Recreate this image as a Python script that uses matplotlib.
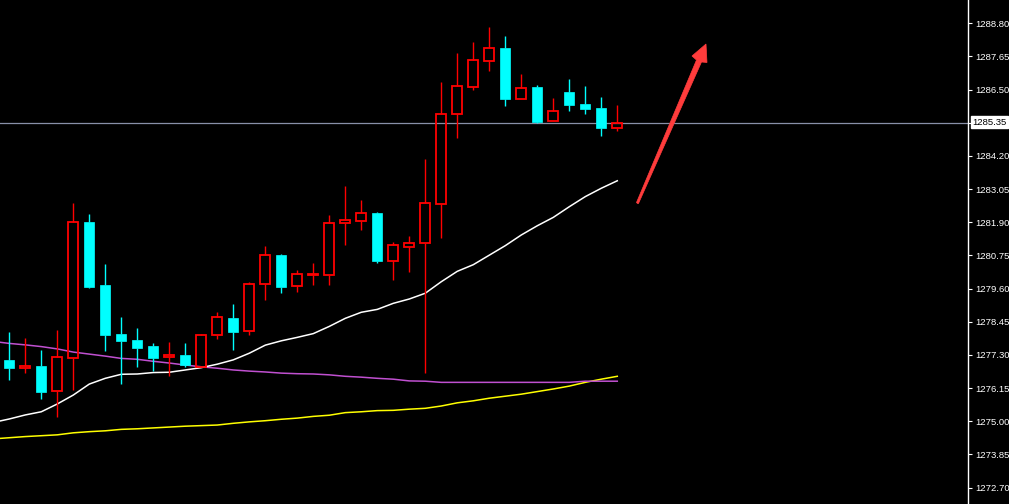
import matplotlib
matplotlib.use("Agg")
import matplotlib.pyplot as plt
from matplotlib.patches import Polygon
import numpy as np

# ---- data ----
opens = [1277.13, 1276.86, 1276.92, 1276.04, 1277.18, 1281.91, 1279.72, 1278.03, 1277.82, 1277.61,
         1277.22, 1277.30, 1276.89, 1277.98, 1278.58, 1278.12, 1279.75, 1280.77, 1279.68, 1280.08,
         1280.06, 1281.87, 1281.93, 1282.22, 1280.57, 1281.05, 1281.17, 1282.52, 1285.67, 1286.60,
         1287.50, 1287.93, 1286.17, 1286.59, 1285.42, 1286.42, 1286.00, 1285.86, 1285.18]
highs = [1278.10, 1277.89, 1277.47, 1278.17, 1282.57, 1282.19, 1280.45, 1278.62, 1278.24, 1277.71,
         1277.75, 1277.71, 1278.03, 1278.79, 1279.07, 1279.83, 1281.08, 1280.80, 1280.25, 1280.49,
         1282.15, 1283.16, 1282.67, 1282.26, 1281.22, 1281.43, 1284.10, 1286.77, 1287.77, 1288.15,
         1288.67, 1288.36, 1287.04, 1286.66, 1286.21, 1286.87, 1286.63, 1286.25, 1285.97]
lows = [1276.43, 1276.69, 1275.77, 1275.16, 1276.09, 1279.62, 1277.45, 1276.30, 1276.88, 1276.74,
        1276.58, 1276.88, 1276.89, 1277.86, 1277.48, 1278.00, 1279.22, 1279.46, 1279.49, 1279.74,
        1279.74, 1281.12, 1281.63, 1280.48, 1279.91, 1280.19, 1276.69, 1281.37, 1284.83, 1286.50,
        1287.16, 1285.93, 1286.17, 1285.34, 1285.42, 1285.76, 1285.66, 1284.89, 1285.07]
closes = [1276.86, 1276.92, 1276.03, 1277.22, 1281.90, 1279.67, 1278.00, 1277.79, 1277.55, 1277.20,
          1277.29, 1276.94, 1277.98, 1278.61, 1278.11, 1279.75, 1280.76, 1279.67, 1280.10, 1280.11,
          1281.87, 1281.97, 1282.21, 1280.57, 1281.10, 1281.17, 1282.56, 1285.65, 1286.62, 1287.52,
          1287.93, 1286.18, 1286.55, 1285.39, 1285.75, 1285.98, 1285.83, 1285.18, 1285.35]

# moving averages, bar index -1 .. 38
ma_white = [1274.96, 1275.08, 1275.22, 1275.33, 1275.60, 1275.91, 1276.29, 1276.49, 1276.63, 1276.64,
            1276.69, 1276.70, 1276.78, 1276.86, 1276.98, 1277.13, 1277.36, 1277.64, 1277.79, 1277.91,
            1278.04, 1278.29, 1278.57, 1278.78, 1278.88, 1279.09, 1279.24, 1279.44, 1279.84, 1280.20,
            1280.43, 1280.76, 1281.09, 1281.46, 1281.78, 1282.07, 1282.44, 1282.79, 1283.08, 1283.34]
ma_magenta = [1277.77, 1277.70, 1277.65, 1277.59, 1277.51, 1277.40, 1277.33, 1277.26, 1277.18, 1277.15,
              1277.08, 1277.02, 1276.95, 1276.89, 1276.84, 1276.78, 1276.74, 1276.71, 1276.67, 1276.65,
              1276.64, 1276.61, 1276.56, 1276.53, 1276.49, 1276.46, 1276.40, 1276.39, 1276.35, 1276.35,
              1276.35, 1276.35, 1276.35, 1276.35, 1276.35, 1276.35, 1276.35, 1276.39, 1276.39, 1276.39]
ma_yellow = [1274.39, 1274.43, 1274.47, 1274.50, 1274.53, 1274.60, 1274.64, 1274.67, 1274.72, 1274.74,
             1274.77, 1274.80, 1274.83, 1274.85, 1274.87, 1274.93, 1274.98, 1275.02, 1275.07, 1275.11,
             1275.17, 1275.21, 1275.30, 1275.33, 1275.37, 1275.38, 1275.42, 1275.45, 1275.53, 1275.64,
             1275.71, 1275.80, 1275.87, 1275.94, 1276.03, 1276.12, 1276.22, 1276.35, 1276.46, 1276.56]

ytick_values = [1272.70, 1273.85, 1275.00, 1276.15, 1277.30, 1278.45, 1279.60, 1280.75,
                1281.90, 1283.05, 1284.20, 1285.35, 1286.50, 1287.65, 1288.80]
current_price = 1285.35
# the current-price tick is shown by the boxed price label instead of a plain tick label
ytick_labels = ["" if abs(v - current_price) < 1e-6 else "%.2f" % v for v in ytick_values]

# ---- figure ----
W, H = 1009, 504
fig = plt.figure(figsize=(W / 100, H / 100), dpi=100, facecolor="black")
plt.rcParams['font.family'] = ['Liberation Sans', 'DejaVu Sans']
ax = fig.add_axes([0, 0, 968 / W, 1])
ax.set_facecolor("black")

n = len(opens)
xs = np.arange(n)
ma_x = np.arange(-1, n)

ax.plot(ma_x, ma_yellow, color="#ffff00", lw=1.1, zorder=1)
ax.plot(ma_x, ma_magenta, color="#c050d0", lw=1.1, zorder=1)
ax.plot(ma_x, ma_white, color="white", lw=1.1, zorder=1)

ax.axhline(current_price, color="#8890a8", lw=0.9, zorder=0.5)

bw = 0.64
for i in range(n):
    o, h, l, c = opens[i], highs[i], lows[i], closes[i]
    top, bot = max(o, c), min(o, c)
    up = c >= o
    col = "#ff0000" if up else "#00ffff"
    ax.vlines(xs[i], top, h, color=col, lw=1.0, zorder=2)
    ax.vlines(xs[i], l, bot, color=col, lw=1.0, zorder=2)
    if up:
        ax.bar(xs[i], max(top - bot, 0.02), bottom=bot, width=bw, facecolor="none",
               edgecolor=col, linewidth=1.3, zorder=3)
    else:
        ax.bar(xs[i], max(top - bot, 0.02), bottom=bot, width=bw, facecolor=col,
               edgecolor=col, linewidth=0.5, zorder=3)

ax.set_xlim(-0.58, 59.92)
ax.set_ylim(1272.132, 1289.608)

for s in ["top", "left", "bottom"]:
    ax.spines[s].set_visible(False)
ax.spines["right"].set_color("white")
ax.spines["right"].set_linewidth(1.0)
ax.set_xticks([])
ax.yaxis.tick_right()
ax.set_yticks(ytick_values)
ax.set_yticklabels(ytick_labels)
ax.tick_params(axis="y", colors="white", length=3, width=0.8, pad=2.5, labelsize=6.8)

# current price label
fig.text(972 / W, 1 - 122.3 / H, "%.2f" % current_price, color="black", fontsize=6.8,
         va="center", ha="left",
         bbox=dict(boxstyle="square,pad=0.15", facecolor="white", edgecolor="white"))

# red arrow (annotation drawn in pixel positions)
def px(x, y):
    return (x / W, 1 - y / H)

arrow_pts = [px(637.5, 203.5), px(636.5, 202.5), px(696.5, 60.0), px(692.0, 56.0),
             px(706.0, 44.0), px(707.0, 62.5), px(701.5, 62.0), px(638.5, 203.5)]
fig.patches.append(Polygon(arrow_pts, closed=True, transform=fig.transFigure,
                           facecolor="#ff3c3c", edgecolor="#ff3c3c", lw=0.5))

fig.savefig("out.png", dpi=100, facecolor="black")
